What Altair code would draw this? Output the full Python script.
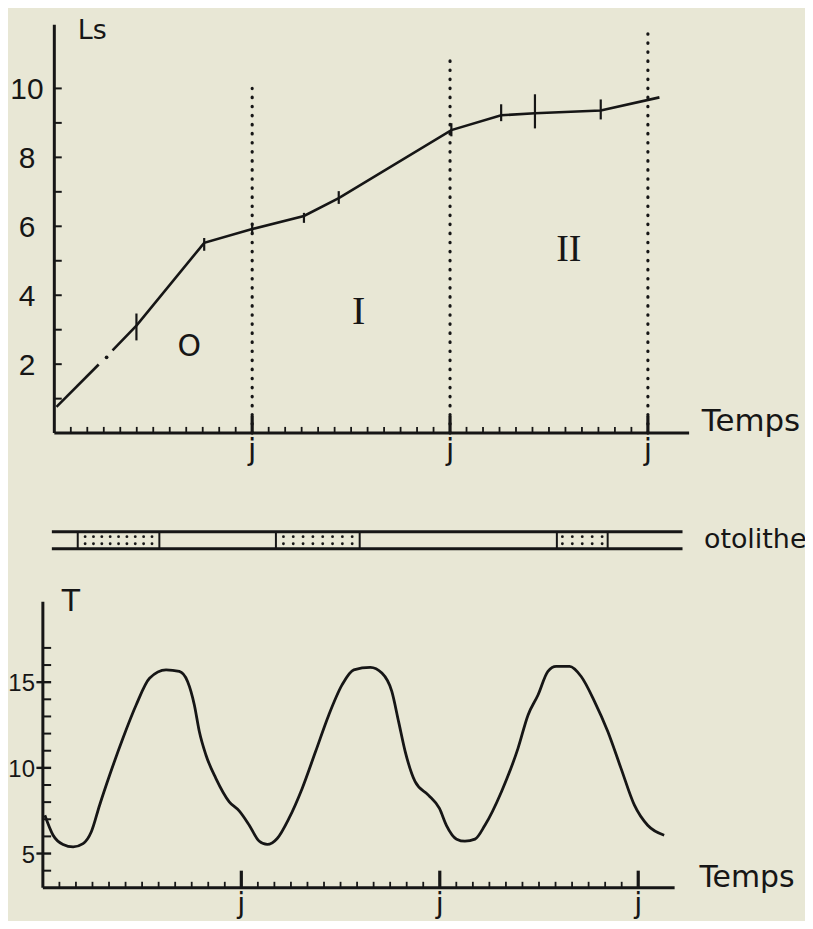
import altair as alt
import pandas as pd
import numpy as np

INK = "#161616"
BG = "#e8e7d5"
SANS = "DejaVu Sans"
DIGITS = "Liberation Sans"
SERIF = "Liberation Serif"

# ---------------- top panel : Ls (standard length) against time in months ----------------
ls_month = [0.13, 2.69, 3.17, 3.53, 4.98, 9.09, 12.0, 15.14, 17.25, 24.08, 27.1, 29.15, 33.14, 36.7]
ls_value = [0.76, 1.99, 2.20, 2.40, 3.12, 5.52, 5.92, 6.30, 6.82, 8.79, 9.22, 9.28, 9.36, 9.74]
ls_part = ["a", "a", "dot", "b", "b", "b", "b", "b", "b", "b", "b", "b", "b", "b"]

# small cross-bars drawn on the growth line
bar_month = [4.98, 9.09, 12.0, 15.14, 17.25, 24.08, 27.1, 29.15, 33.14]
bar_lo = [2.69, 5.29, 5.78, 6.10, 6.65, 8.61, 9.05, 8.84, 9.10]
bar_hi = [3.47, 5.66, 6.10, 6.39, 7.02, 8.99, 9.54, 9.83, 9.68]

# january marks (j) and dotted year limits
jan_month = [12, 24, 36]
jan_label = ["j", "j", "j"]
dotted_top = [10.0, 11.0, 11.6]

ls_ticks = [2, 4, 6, 8, 10]
ls_minor = [1, 2, 3, 4, 5, 6, 7, 8, 9, 10]
month_minor = [1, 2, 3, 4, 5, 6, 7, 8, 9, 10, 11, 13, 14, 15, 16, 17, 18, 19, 20, 21, 22, 23,
               25, 26, 27, 28, 29, 30, 31, 32, 33, 34, 35]

class_label = ["O", "I", "II"]
class_month = [8.19, 18.46, 31.2]
class_ls = [2.49, 3.55, 5.35]

# ---------------- otolith strip ----------------
oto_start = [1.42, 13.44, 30.48]
oto_end = [6.37, 18.52, 33.56]
oto_dots = [9, 8, 5]
strip_from, strip_to = -0.15, 38.1

# ---------------- bottom panel : temperature T ----------------
t_month = [0.12, 0.62, 1.22, 1.83, 2.43, 2.93, 3.43, 4.04, 4.84, 5.64, 6.45, 7.45, 8.25, 8.75,
           9.16, 9.46, 9.86, 10.46, 11.27, 11.87, 12.47, 13.07, 13.57, 14.17, 14.88, 15.68,
           16.49, 17.29, 18.09, 18.80, 19.80, 20.50, 21.10, 21.51, 21.91, 22.51, 23.31, 23.98,
           24.40, 25.02, 25.52, 26.13, 26.73, 27.73, 28.73, 29.34, 29.94, 30.54, 31.04, 31.85,
           32.55, 33.36, 34.16, 34.96, 35.77, 36.57, 37.57]
t_value = [7.24, 6.07, 5.53, 5.39, 5.58, 6.27, 7.82, 9.58, 11.73, 13.67, 15.23, 15.72, 15.63, 15.04,
           13.67, 12.12, 10.75, 9.39, 8.02, 7.49, 6.67, 5.73, 5.53, 5.88, 7.05, 8.80,
           10.95, 13.09, 14.84, 15.72, 15.86, 15.53, 14.46, 12.70, 10.95, 9.19, 8.41, 7.63,
           6.65, 5.84, 5.72, 5.84, 6.65, 8.61, 11.14, 13.09, 14.25, 15.63, 15.92, 15.92,
           15.33, 13.87, 12.12, 9.97, 7.82, 6.65, 6.07]
t_ticks = [5, 10, 15]
t_minor = [4, 6, 7, 8, 9, 11, 12, 13, 14, 16, 17]

# ---------------- scales (pixel ranges of each panel) ----------------
def xs_top():
    return alt.Scale(domain=[0, 36], range=[46.5, 46.5 + 36 * 16.55], nice=False, zero=False)

def ys_top():
    return alt.Scale(domain=[0, 10], range=[425, 79], nice=False, zero=False)

def ys_oto():
    return alt.Scale(domain=[0, 1], range=[541, 524], nice=False, zero=False)

def xs_bot():
    return alt.Scale(domain=[0, 36], range=[35, 35 + 36 * 16.6], nice=False, zero=False)

def ys_bot():
    return alt.Scale(domain=[5, 15], range=[847, 675], nice=False, zero=False)


def X(f, s):
    return alt.X(f, type="quantitative", scale=s, axis=None)

def Y(f, s):
    return alt.Y(f, type="quantitative", scale=s, axis=None)


def seg_layer(df, xs, ys, width, **kw):
    return alt.Chart(df).mark_rule(color=INK, strokeWidth=width, **kw).encode(
        x=X("x", xs), x2="x2:Q", y=Y("y", ys), y2="y2:Q")


def text_layer(df, xs, ys, size, font, align="left", baseline="alphabetic", dy=0):
    return alt.Chart(df).mark_text(color=INK, fontSize=size, font=font, align=align,
                                   baseline=baseline, dy=dy).encode(
        x=X("x", xs), y=Y("y", ys), text="t:N")


layers = []

# ----- top panel -----
curve = pd.DataFrame({"m": ls_month, "v": ls_value, "part": ls_part})
layers.append(
    alt.Chart(curve[curve.part != "dot"]).mark_line(color=INK, strokeWidth=2.6).encode(
        x=X("m", xs_top()), y=Y("v", ys_top()), detail="part:N", order="m:Q"))
layers.append(
    alt.Chart(curve[curve.part == "dot"]).mark_circle(color=INK, opacity=1, size=14).encode(
        x=X("m", xs_top()), y=Y("v", ys_top())))
layers.append(
    alt.Chart(pd.DataFrame({"m": bar_month, "lo": bar_lo, "hi": bar_hi})).mark_rule(
        color=INK, strokeWidth=2.2).encode(x=X("m", xs_top()), y=Y("lo", ys_top()), y2="hi:Q"))
layers.append(
    alt.Chart(pd.DataFrame({"m": jan_month, "lo": [0, 0, 0], "hi": dotted_top})).mark_rule(
        color=INK, strokeWidth=3.2, strokeDash=[0.5, 8.6], strokeCap="round").encode(
        x=X("m", xs_top()), y=Y("lo", ys_top()), y2="hi:Q"))

# axes of top panel
layers.append(seg_layer(pd.DataFrame({"x": [0, 0], "x2": [0, 38.5], "y": [0, 0], "y2": [11.85, 0]}),
                        xs_top(), ys_top(), 3.0))
layers.append(seg_layer(pd.DataFrame({"x": [0] * len(ls_minor), "x2": [0.45] * len(ls_minor),
                                      "y": ls_minor, "y2": ls_minor}), xs_top(), ys_top(), 2.0))
layers.append(seg_layer(pd.DataFrame({"x": month_minor, "x2": month_minor,
                                      "y": [0] * len(month_minor), "y2": [0.18] * len(month_minor)}),
                        xs_top(), ys_top(), 1.8))
layers.append(seg_layer(pd.DataFrame({"x": jan_month, "x2": jan_month,
                                      "y": [0, 0, 0], "y2": [0.5, 0.5, 0.5]}), xs_top(), ys_top(), 3.2))

layers.append(text_layer(pd.DataFrame({"x": [-1.66] * len(ls_ticks), "y": ls_ticks,
                                       "t": [str(v) for v in ls_ticks]}),
                         xs_top(), ys_top(), 30, DIGITS, align="center", baseline="middle", dy=2))
layers.append(text_layer(pd.DataFrame({"x": jan_month, "y": [-0.78] * 3, "t": jan_label}),
                         xs_top(), ys_top(), 30, SANS, align="center"))
layers.append(text_layer(pd.DataFrame({"x": [1.42], "y": [11.42], "t": ["Ls"]}),
                         xs_top(), ys_top(), 27, SANS))
layers.append(text_layer(pd.DataFrame({"x": [39.27], "y": [0.06], "t": ["Temps"]}),
                         xs_top(), ys_top(), 31, SANS))
layers.append(text_layer(pd.DataFrame({"x": class_month[:1], "y": class_ls[:1], "t": class_label[:1]}),
                         xs_top(), ys_top(), 30, SANS, align="center", baseline="middle"))
layers.append(text_layer(pd.DataFrame({"x": class_month[1:2], "y": class_ls[1:2], "t": class_label[1:2]}),
                         xs_top(), ys_top(), 40, SERIF, align="center", baseline="middle", dy=1))
layers.append(text_layer(pd.DataFrame({"x": class_month[2:], "y": class_ls[2:], "t": class_label[2:]}),
                         xs_top(), ys_top(), 38, SERIF, align="center", baseline="middle", dy=1))

# ----- otolith strip -----
layers.append(seg_layer(pd.DataFrame({"x": [strip_from, strip_from], "x2": [strip_to, strip_to],
                                      "y": [0, 1], "y2": [0, 1]}), xs_top(), ys_oto(), 3.0))
edges = oto_start + oto_end
layers.append(seg_layer(pd.DataFrame({"x": edges, "x2": edges, "y": [0] * len(edges),
                                      "y2": [1] * len(edges)}), xs_top(), ys_oto(), 2.0))
dot_x, dot_y = [], []
for a, b, n in zip(oto_start, oto_end, oto_dots):
    pad = (b - a) * 0.06
    for row in (0.29, 0.71):
        xs_ = np.linspace(a + pad + 0.15, b - pad - 0.15, n)
        dot_x.extend(xs_.tolist())
        dot_y.extend([row] * n)
layers.append(alt.Chart(pd.DataFrame({"x": dot_x, "y": dot_y})).mark_circle(
    color=INK, opacity=1, size=8).encode(x=X("x", xs_top()), y=Y("y", ys_oto())))
layers.append(text_layer(pd.DataFrame({"x": [39.4], "y": [0.5], "t": ["otolithe"]}),
                         xs_top(), ys_oto(), 27, SANS, baseline="middle"))

# ----- bottom panel -----
layers.append(
    alt.Chart(pd.DataFrame({"m": t_month, "v": t_value})).mark_line(
        color=INK, strokeWidth=2.8, interpolate="monotone").encode(
        x=X("m", xs_bot()), y=Y("v", ys_bot()), order="m:Q"))
layers.append(seg_layer(pd.DataFrame({"x": [0, 0], "x2": [0, 38.2], "y": [3.0, 3.0], "y2": [19.7, 3.0]}),
                        xs_bot(), ys_bot(), 3.0))
layers.append(seg_layer(pd.DataFrame({"x": [0] * len(t_minor), "x2": [0.5] * len(t_minor),
                                      "y": t_minor, "y2": t_minor}), xs_bot(), ys_bot(), 2.0))
layers.append(seg_layer(pd.DataFrame({"x": [-0.39] * 3, "x2": [0.5] * 3, "y": t_ticks, "y2": t_ticks}),
                        xs_bot(), ys_bot(), 2.4))
layers.append(seg_layer(pd.DataFrame({"x": month_minor, "x2": month_minor,
                                      "y": [3.0] * len(month_minor), "y2": [3.35] * len(month_minor)}),
                        xs_bot(), ys_bot(), 1.8))
layers.append(seg_layer(pd.DataFrame({"x": jan_month, "x2": jan_month,
                                      "y": [3.0] * 3, "y2": [4.0] * 3}), xs_bot(), ys_bot(), 3.2))
layers.append(text_layer(pd.DataFrame({"x": [-0.48] * 3, "y": t_ticks, "t": [str(v) for v in t_ticks]}),
                         xs_bot(), ys_bot(), 24, DIGITS, align="right", baseline="middle", dy=2))
layers.append(text_layer(pd.DataFrame({"x": jan_month, "y": [1.55] * 3, "t": jan_label}),
                         xs_bot(), ys_bot(), 29, SANS, align="center"))
layers.append(text_layer(pd.DataFrame({"x": [1.14], "y": [19.15], "t": ["T"]}),
                         xs_bot(), ys_bot(), 30, SANS))
layers.append(text_layer(pd.DataFrame({"x": [39.7], "y": [3.07], "t": ["Temps"]}),
                         xs_bot(), ys_bot(), 30, SANS))

chart = alt.layer(*layers).resolve_scale(x="independent", y="independent").properties(
    width=800, height=913, autosize=alt.AutoSizeParams(type="none"), padding=0,
    background=BG,
).configure_view(stroke=None)

chart.save("out.html", embed_options={"renderer": "svg", "actions": False})
